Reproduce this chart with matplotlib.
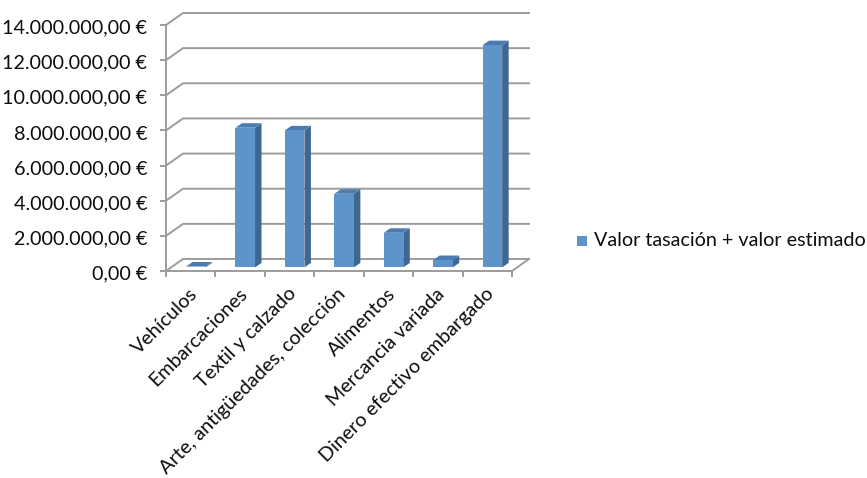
import matplotlib
matplotlib.use("Agg")
import matplotlib.pyplot as plt
from matplotlib.patches import Polygon, Rectangle
from matplotlib.lines import Line2D

categories = ["Vehículos", "Embarcaciones", "Textil y calzado",
              "Arte, antigüedades, colección", "Alimentos",
              "Mercancia variada", "Dinero efectivo embargado"]
values = [50000, 7950000, 7800000, 4190000, 1970000, 420000, 12650000]
yticks = [0, 2e6, 4e6, 6e6, 8e6, 10e6, 12e6, 14e6]
ytick_labels = ["0,00 €", "2.000.000,00 €", "4.000.000,00 €", "6.000.000,00 €",
                "8.000.000,00 €", "10.000.000,00 €", "12.000.000,00 €", "14.000.000,00 €"]
series_name = "Valor tasación + valor estimado"

plt.rcParams['font.family'] = ['Lato', 'DejaVu Sans']
FS = 14.2

W, H = 867, 478
fig = plt.figure(figsize=(W/100, H/100), dpi=100)
L, R, B, T = 166, 512, 271, 25
ax = fig.add_axes([L/W, (H-B)/H, (R-L)/W, (B-T)/H])
n = len(categories)
ymax = 14e6
ax.set_xlim(0, n)
ax.set_ylim(0, ymax)
ax.axis('off')

pxx = (R-L)/n          # px per category
pxy = (B-T)/ymax       # px per value unit
DX = 17/pxx            # wall depth offset in data units
DY = 12/pxy
grid_c = "#9c9c9c"
lw = 1.4

# gridlines: left wall diagonal + back wall horizontal
for v in yticks:
    ax.add_line(Line2D([0, DX, n+DX], [v, v+DY, v+DY], color=grid_c, lw=lw,
                       clip_on=False, zorder=1))
# floor
ax.add_line(Line2D([0, n, n+DX], [0, 0, DY], color=grid_c, lw=lw, clip_on=False, zorder=1))
# vertical axis line
ax.add_line(Line2D([0, 0], [0, ymax], color=grid_c, lw=lw, clip_on=False, zorder=1))
# y tick marks
for v in yticks:
    ax.add_line(Line2D([-5/pxx, 0], [v, v], color=grid_c, lw=lw, clip_on=False, zorder=1))
# x tick marks
for i in range(n+1):
    ax.add_line(Line2D([i, i], [0, -5/pxy], color=grid_c, lw=lw, clip_on=False, zorder=1))

# y labels
for v, lab in zip(yticks, ytick_labels):
    ax.text(-19/pxx, v - 3/pxy, lab, ha='right', va='center', fontsize=FS, color='#0d0d0d')

# bars
f0 = 0.3
bw = 0.395
sdx = 6.5/pxx
sdy = 4.5/pxy
front_c = "#5f94c9"
side_c = "#3e6792"
top_c = "#4a7bb2"
for i, v in enumerate(values):
    x0 = i + 0.5 - bw/2 + f0*DX
    y0 = f0*DY
    x1 = x0 + bw
    y1 = y0 + v
    ax.add_patch(Polygon([[x1, y0], [x1+sdx, y0+sdy], [x1+sdx, y1+sdy], [x1, y1]],
                         closed=True, fc=side_c, ec='none', clip_on=False, zorder=3))
    ax.add_patch(Polygon([[x0, y1], [x1, y1], [x1+sdx, y1+sdy], [x0+sdx, y1+sdy]],
                         closed=True, fc=top_c, ec='none', clip_on=False, zorder=3))
    ax.add_patch(Rectangle((x0, y0), bw, v, fc=front_c, ec='none', clip_on=False, zorder=4))

# category labels
for i, c in enumerate(categories):
    ax.text(i + 0.5 + 4/pxx, -20/pxy, c, rotation=45, rotation_mode='anchor',
            ha='right', va='center', fontsize=FS, color='#0d0d0d')

# legend
lx, ly = 577, 241
fig.patches.append(Rectangle((lx/W, (H-ly-5)/H), 10/W, 10/H, transform=fig.transFigure,
                             fc=front_c, ec='none'))
fig.text(594/W, (H-ly)/H, series_name, ha='left', va='center', fontsize=FS, color='#0d0d0d')

fig.savefig("out.png", dpi=100)
